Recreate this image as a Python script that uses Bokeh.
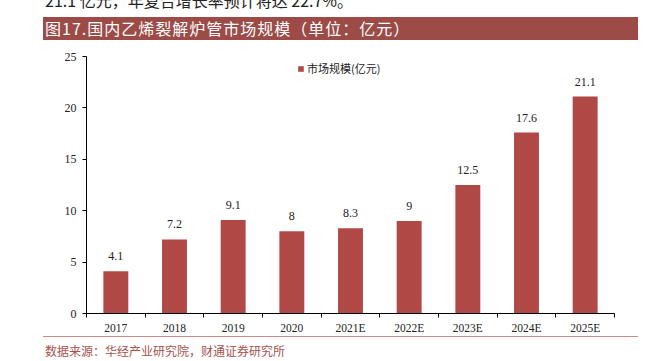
from bokeh.plotting import figure
from bokeh.models import (ColumnDataSource, FixedTicker, Range1d, Legend, LegendItem, Div)
from bokeh.layouts import column
from bokeh.core.properties import value
from bokeh.embed import file_html
from bokeh.resources import INLINE

# ---- data ----
years = ["2017", "2018", "2019", "2020", "2021E", "2022E", "2023E", "2024E", "2025E"]
market = [4.1, 7.2, 9.1, 8, 8.3, 9, 12.5, 17.6, 21.1]
value_labels = ["4.1", "7.2", "9.1", "8", "8.3", "9", "12.5", "17.6", "21.1"]
y_ticks = [0, 5, 10, 15, 20, 25]
series_name = "市场规模(亿元)"
title_text = "图17.国内乙烯裂解炉管市场规模（单位：亿元）"
top_text = "21.1 亿元，年复合增长率预计将达 22.7%。"
source_text = "数据来源：华经产业研究院，财通证券研究所"

centers = [i + 0.5 for i in range(len(years))]
bounds = list(range(len(years) + 1))

src = ColumnDataSource(dict(x=centers, v=market, lab=value_labels))

CJK = "'Noto Sans CJK SC', sans-serif"
W = 640

div_top = Div(
    text=(f'<div style="position:relative;top:-9px;left:45px;font-family:{CJK};'
          f'font-size:16px;line-height:18px;color:#222;white-space:nowrap">{top_text}</div>'),
    width=W, height=17, margin=0)

div_title = Div(
    text=(f'<div style="margin-left:43px;width:595px;height:23px;background:#9C4B47;'
          f'color:white;font-family:{CJK};font-size:16px;line-height:23px;padding-left:2px;'
          f'letter-spacing:1px;box-sizing:border-box;white-space:nowrap">{title_text}</div>'),
    width=W, height=23, margin=0)

p = figure(width=W, height=296, output_backend="svg", toolbar_location=None,
           title=None, x_range=Range1d(0, len(years)), y_range=Range1d(0, 25),
           min_border_left=86, min_border_right=26, min_border_top=16, min_border_bottom=22,
           margin=0)
p.outline_line_color = None
p.xgrid.visible = False
p.ygrid.visible = False
p.background_fill_color = "white"
p.border_fill_color = "white"

BAR = "#B04846"
r = p.vbar(x="x", top="v", width=0.425, source=src, fill_color=BAR, line_color=None)

p.text(x="x", y="v", text="lab", source=src, text_font=value("Liberation Serif"),
       text_font_size="12px", text_color="#222222", text_align="center",
       text_baseline="middle", y_offset=-15)

# x axis: labels at category centres, ticks at category boundaries
xa = p.xaxis[0]
xa.ticker = FixedTicker(ticks=centers, minor_ticks=bounds)
xa.major_label_overrides = {c: y for c, y in zip(centers, years)}
xa.major_tick_line_color = None
xa.major_tick_out = 0
xa.major_tick_in = 0
xa.minor_tick_line_color = "black"
xa.minor_tick_out = 4
xa.minor_tick_in = 0
xa.axis_line_color = "black"
xa.major_label_text_font = "Liberation Serif"
xa.major_label_text_font_size = "11.5px"
xa.major_label_text_color = "#222222"
xa.major_label_standoff = 4

ya = p.yaxis[0]
ya.ticker = FixedTicker(ticks=y_ticks)
ya.minor_tick_line_color = None
ya.major_tick_out = 4
ya.major_tick_in = 0
ya.major_tick_line_color = "black"
ya.axis_line_color = "black"
ya.major_label_text_font = "Liberation Serif"
ya.major_label_text_font_size = "12px"
ya.major_label_text_color = "#222222"
ya.major_label_standoff = 6

legend = Legend(items=[LegendItem(label=series_name, renderers=[r])],
                location=(211, 237), orientation="horizontal",
                border_line_color=None, background_fill_alpha=0,
                padding=0, margin=0, spacing=0,
                glyph_width=7, glyph_height=7, label_height=12, label_standoff=3,
                label_text_font="Noto Sans CJK SC", label_text_font_size="11px",
                label_text_color="#222222")
p.add_layout(legend)

div_source = Div(
    text=(f'<div style="margin-left:43px;width:595px;height:1px;background:#C98A88"></div>'
          f'<div style="margin-left:45px;margin-top:7px;font-family:{CJK};font-size:12px;'
          f'line-height:14px;color:#A8524E;white-space:nowrap">{source_text}</div>'),
    width=W, height=25, margin=0)

layout = column(div_top, div_title, p, div_source, spacing=0, margin=0)

open("out.html", "w").write(file_html(layout, INLINE))
